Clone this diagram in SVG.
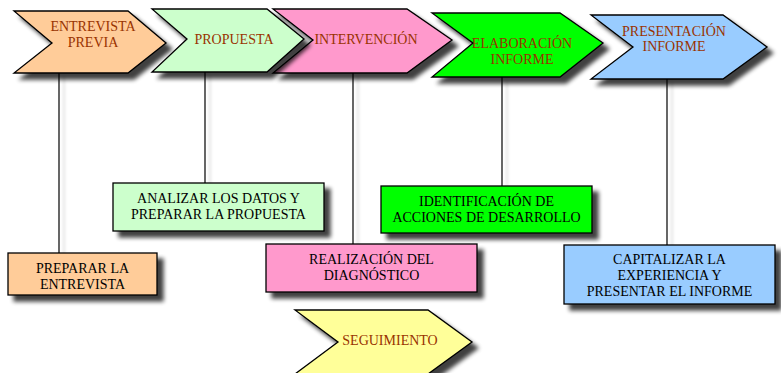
<svg xmlns="http://www.w3.org/2000/svg" width="781" height="373" viewBox="0 0 781 373">
<defs>
<filter id="sh" x="-10%" y="-10%" width="130%" height="140%">
<feGaussianBlur in="SourceAlpha" stdDeviation="2"/>
<feOffset dx="6" dy="6" result="b"/>
<feComponentTransfer in="b" result="c"><feFuncA type="linear" slope="0.75"/></feComponentTransfer>
<feMerge><feMergeNode in="c"/><feMergeNode in="SourceGraphic"/></feMerge>
</filter>
<filter id="lsh" filterUnits="userSpaceOnUse" x="0" y="0" width="781" height="373">
<feGaussianBlur in="SourceAlpha" stdDeviation="1.5"/>
<feOffset dx="5" dy="3" result="b"/>
<feComponentTransfer in="b" result="c"><feFuncA type="linear" slope="0.2"/></feComponentTransfer>
<feMerge><feMergeNode in="c"/><feMergeNode in="SourceGraphic"/></feMerge>
</filter>
</defs>
<style>
.s{stroke:#000;stroke-width:1.3;filter:url(#sh)}
text{font-family:'Liberation Serif',Tinos,'Times New Roman','DejaVu Serif',serif;font-size:14px;text-anchor:middle}
.t{fill:#993300}
.b{fill:#000}
.c{filter:url(#lsh)}
.c line{stroke:#000;stroke-width:1.2}
</style>
<rect width="781" height="373" fill="#fff"/>
<g id="connectors" class="c">
<line x1="59" y1="73" x2="59" y2="253"/>
<line x1="205" y1="72" x2="205" y2="183"/>
<line x1="353" y1="73" x2="353" y2="244"/>
<line x1="502" y1="77" x2="502" y2="186"/>
<line x1="667" y1="79" x2="667" y2="245"/>
</g>
<g id="entrevista-previa">
<polygon class="s" points="14,11 128,11 166,43 128,73 14,73 52,43" fill="#FFCC99"/>
<text class="t" x="93" y="31" font-family="Liberation Serif, serif">ENTREVISTA</text>
<text class="t" x="93" y="47" font-family="Liberation Serif, serif">PREVIA</text>
</g>
<g id="intervencion">
<polygon class="s" points="273,9 407,9 452,40 407,73 273,73 313,40" fill="#FF99CC"/>
<text class="t" x="366" y="44">INTERVENCIÓN</text>
</g>
<g id="propuesta">
<polygon class="s" points="152,9 267,9 304,39 267,72 152,72 187,39" fill="#CCFFCC"/>
<text class="t" x="234" y="44">PROPUESTA</text>
</g>
<g id="elaboracion-informe">
<polygon class="s" points="432,13 560,13 603,43 560,77 432,77 473,43" fill="#00FF00"/>
<text class="t" x="522" y="48">ELABORACIÓN</text>
<text class="t" x="522" y="64">INFORME</text>
</g>
<g id="presentacion-informe">
<polygon class="s" points="591,15 723,15 767,47 723,79 591,79 633,47" fill="#99CCFF"/>
<text class="t" x="674" y="36">PRESENTACIÓN</text>
<text class="t" x="674" y="51">INFORME</text>
</g>
<g id="seguimiento">
<polygon class="s" points="295,310 428,310 472,342 428,374 295,374 338,342" fill="#FFFF99"/>
<text class="t" x="390" y="345">SEGUIMIENTO</text>
</g>
<g id="preparar-entrevista">
<rect class="s" x="8" y="253" width="149" height="42" fill="#FFCC99"/>
<text class="b" x="82.5" y="273">PREPARAR LA</text>
<text class="b" x="82.5" y="289">ENTREVISTA</text>
</g>
<g id="analizar-datos">
<rect class="s" x="113" y="183" width="211" height="48" fill="#CCFFCC"/>
<text class="b" x="218.5" y="203">ANALIZAR LOS DATOS Y</text>
<text class="b" x="218.5" y="219">PREPARAR LA PROPUESTA</text>
</g>
<g id="realizacion-diagnostico">
<rect class="s" x="266" y="244" width="211" height="48" fill="#FF99CC"/>
<text class="b" x="371.5" y="264">REALIZACIÓN DEL</text>
<text class="b" x="371.5" y="280">DIAGNÓSTICO</text>
</g>
<g id="identificacion-acciones">
<rect class="s" x="381" y="186" width="211" height="47" fill="#00FF00"/>
<text class="b" x="486.5" y="206">IDENTIFICACIÓN DE</text>
<text class="b" x="486.5" y="222">ACCIONES DE DESARROLLO</text>
</g>
<g id="capitalizar-experiencia">
<rect class="s" x="564" y="245" width="211" height="59" fill="#99CCFF"/>
<text class="b" x="669.5" y="264">CAPITALIZAR LA</text>
<text class="b" x="669.5" y="280">EXPERIENCIA Y</text>
<text class="b" x="669.5" y="296">PRESENTAR EL INFORME</text>
</g>
</svg>
